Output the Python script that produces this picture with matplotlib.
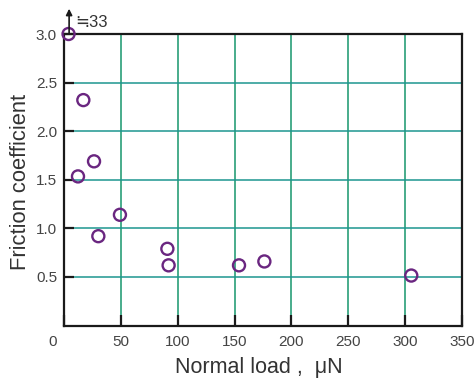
import matplotlib
matplotlib.use("Agg")
import matplotlib.pyplot as plt
from matplotlib.transforms import ScaledTranslation

plt.rcParams['font.family'] = ['Liberation Sans', 'DejaVu Sans']

load = [4, 12.3, 17, 26.4, 30.2, 49.2, 90.9, 92, 153.9, 176.2, 305.4]
friction = [3.0, 1.535, 2.32, 1.69, 0.92, 1.14, 0.79, 0.62, 0.62, 0.66, 0.515]
xticks = [0, 50, 100, 150, 200, 250, 300, 350]
yticks = [0.5, 1.0, 1.5, 2.0, 2.5, 3.0]
ytick_labels = ["0.5", "1.0", "1.5", "2.0", "2.5", "3.0"]
offscale_label = "≒33"

W, H = 476, 379
fig = plt.figure(figsize=(W/100, H/100), dpi=100)
ax = fig.add_axes([64/W, 1 - 325.6/H, 398/W, 291.6/H])
ax.set_xlim(0, 350)
ax.set_ylim(0, 3.0)

grid_c = '#16966c'
for x in xticks[1:-1]:
    ax.axvline(x, color=grid_c, lw=1.1, zorder=1)
for y in yticks[:-1]:
    ax.axhline(y, color='#1c9690', lw=1.1, zorder=1)

ax.scatter(load, friction, s=75, facecolors='none', edgecolors='#6a2680',
           linewidths=1.7, zorder=3, clip_on=False)

for s in ax.spines.values():
    s.set_linewidth(1.6)
    s.set_color('#1a1a1a')

ax.set_xticks(xticks)
ax.set_xticklabels([str(v) for v in xticks])
ax.set_yticks(yticks)
ax.set_yticklabels(ytick_labels)
ax.tick_params(direction='in', length=8, width=1.6, color='#1a1a1a',
               labelsize=11, labelcolor='#444444', pad=7)
ax.tick_params(axis='y', length=7, pad=5)
lbl0 = ax.get_xticklabels()[0]
lbl0.set_transform(lbl0.get_transform() + ScaledTranslation(-11/100, 0, fig.dpi_scale_trans))

fig.text(259/W, 1 - 368/H, "Normal load ,  μN", fontsize=15.5, color='#333333',
         ha='center', va='center')
fig.text(21/W, 1 - 182/H, "Friction coefficient", fontsize=15.8, color='#333333',
         ha='center', va='center', rotation=90)

# off-scale arrow
ax.annotate("", xy=(4.5, 3.26), xytext=(4.5, 3.0),
            arrowprops=dict(arrowstyle='-|>', color='#1a1a1a', lw=1.2,
                            mutation_scale=9, shrinkA=0, shrinkB=0),
            annotation_clip=False)
ax.text(9.5, 3.12, offscale_label, fontsize=12, color='#333333',
        ha='left', va='center', clip_on=False)

fig.savefig("out.png", dpi=100)
